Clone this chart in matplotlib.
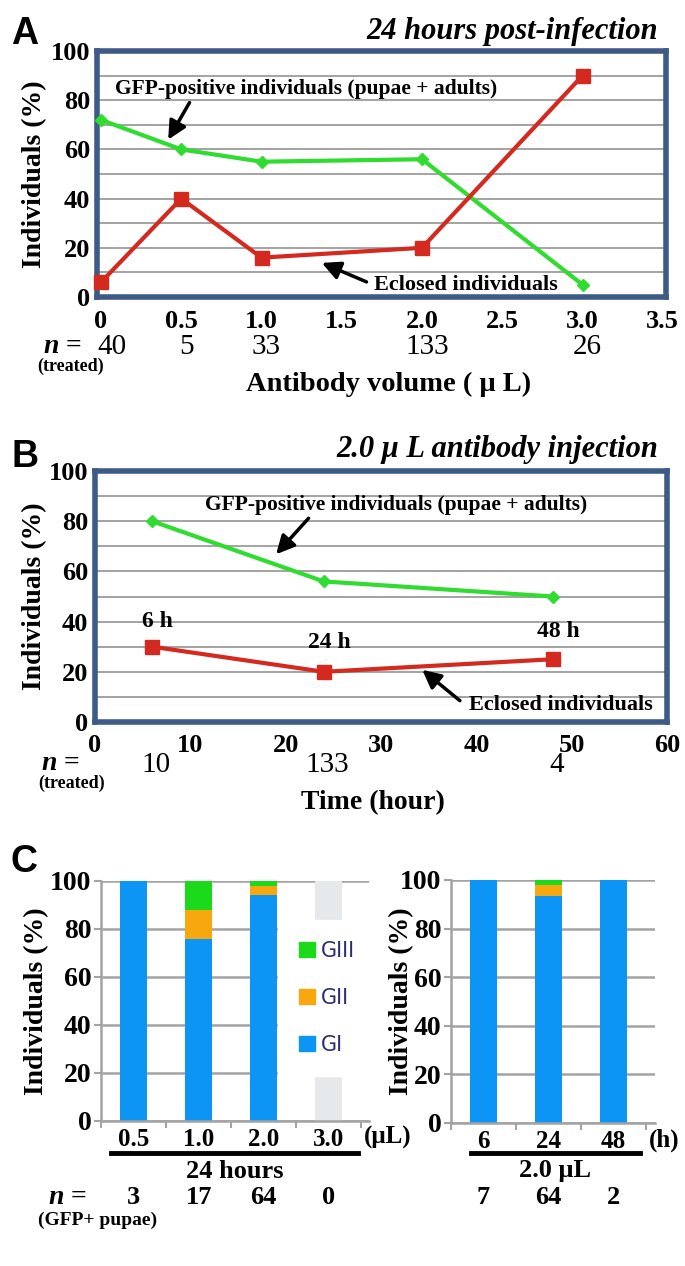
import numpy as np
import matplotlib.pyplot as plt
from matplotlib.patches import Patch
from matplotlib.transforms import blended_transform_factory

plt.rcParams['font.family'] = ['Liberation Serif', 'DejaVu Serif']
plt.rcParams['font.weight'] = 'bold'
plt.rcParams['axes.labelweight'] = 'bold'
plt.rcParams['mathtext.fontset'] = 'custom'
plt.rcParams['mathtext.it'] = 'Liberation Serif:italic:bold'
plt.rcParams['mathtext.rm'] = 'Liberation Serif:bold'

# panel A: 24 h post-infection, antibody volume
volA = [0, 0.5, 1.0, 2.0, 3.0]
gfpA = [72, 60, 55, 56, 5]
eclA = [6, 40, 16, 20, 90]
nA = ['40', '5', '33', '133', '26']

# panel B: 2.0 uL injection, time
timeB = [6, 24, 48]
gfpB = [80, 56, 50]
eclB = [30, 20, 25]
nB = ['10', '133', '4']
tlabB = ['6 h', '24 h', '48 h']

# panel C: grades of GFP+ pupae
volC = ['0.5', '1.0', '2.0', '3.0']
giC = [100, 76, 94, 0]
giiC = [0, 12, 4, 0]
giiiC = [0, 12, 2, 0]
nC = ['3', '17', '64', '0']

timeC = ['6', '24', '48']
giT = [100, 93.5, 100]
giiT = [0, 4.5, 0]
giiiT = [0, 2, 0]
nT = ['7', '64', '2']

W, H = 685, 1266
fig = plt.figure(figsize=(W / 100, H / 100), dpi=100)

def fx(x):
    return x / W

def fy(y):
    return 1 - y / H

def box(l, t, r, b):
    return [fx(l), fy(b), (r - l) / W, (b - t) / H]

green = '#2fdc2f'
red = '#d4291f'
frame = '#3d5b86'
gridc = '#a3a3a3'
blue = '#0c95f5'
orange = '#f7a80f'
gbar = '#1bd91b'
arrow = dict(arrowstyle='-|>,head_length=1.1,head_width=0.55', color='black', lw=2.5)


def ylabel_at(ax, xpix):
    ax.set_ylabel('Individuals (%)', fontsize=20)
    ax.yaxis.set_label_coords(fx(xpix), 0.5,
                              transform=blended_transform_factory(fig.transFigure, ax.transAxes))


def line_panel(ax, xlim, xticks, xtl):
    ax.set_xlim(*xlim)
    ax.set_ylim(0, 100)
    ax.set_xticks(xticks)
    ax.set_xticklabels(xtl)
    ax.set_yticks(range(0, 101, 20))
    ax.set_yticks(range(10, 100, 20), minor=True)
    ax.grid(axis='y', which='both', color=gridc, lw=1.4)
    ax.set_axisbelow(True)
    for s in ax.spines.values():
        s.set_color(frame)
        s.set_linewidth(4)
    ax.tick_params(length=0, which='both', labelsize=19)
    ax.tick_params(axis='x', pad=9)
    ax.tick_params(axis='y', pad=5)
    ylabel_at(ax, 47)


# ---- A ----
axA = fig.add_axes(box(97, 51, 666, 297))
line_panel(axA, (-0.025, 3.52), np.arange(0, 3.6, 0.5),
           ['0', '0.5', '1.0', '1.5', '2.0', '2.5', '3.0', '3.5'])
axA.plot(volA, gfpA, color=green, lw=3, marker='D', ms=6, clip_on=False, zorder=4)
axA.plot(volA, eclA, color=red, lw=3, marker='s', ms=9.5, clip_on=False, zorder=4)
axA.text(0.09, 84.5, 'GFP-positive individuals (pupae + adults)', fontsize=15.5, va='center', ha='left')
axA.annotate('', xy=(0.41, 63), xytext=(0.56, 80), arrowprops=arrow)
axA.text(1.70, 5, 'Eclosed individuals', fontsize=16, va='center', ha='left')
axA.annotate('', xy=(1.36, 14.3), xytext=(1.67, 5.7), arrowprops=arrow)
tA = blended_transform_factory(axA.transData, fig.transFigure)
for x, n in zip(volA, nA):
    axA.text(x + (0.07 if x == 0 else 0.03), fy(347), n, transform=tA,
             ha='center', va='center', fontsize=21, fontweight='normal')
fig.text(fx(658), fy(32), '24 hours post-infection', ha='right', va='center',
         fontsize=22, style='italic')
fig.text(fx(62), fy(347), '$n$ =', ha='center', va='center', fontsize=20)
fig.text(fx(71), fy(366), '(treated)', ha='center', va='center', fontsize=13)
fig.text(fx(389), fy(384), 'Antibody volume ( μ L)', ha='center', va='center', fontsize=20.5)
fig.text(fx(11), fy(34), 'A', family='Liberation Sans', fontsize=27, ha='left', va='center')

# ---- B ----
axB = fig.add_axes(box(95, 471, 667, 722))
line_panel(axB, (0, 60), range(0, 61, 10), [str(v) for v in range(0, 61, 10)])
axB.plot(timeB, gfpB, color=green, lw=3, marker='D', ms=6, clip_on=False, zorder=4)
axB.plot(timeB, eclB, color=red, lw=3, marker='s', ms=9.5, clip_on=False, zorder=4)
axB.text(11.5, 86.5, 'GFP-positive individuals (pupae + adults)', fontsize=15.5, va='center', ha='left')
axB.annotate('', xy=(18.8, 66), xytext=(22.6, 82), arrowprops=arrow)
axB.text(39.2, 6.8, 'Eclosed individuals', fontsize=16, va='center', ha='left')
axB.annotate('', xy=(34.1, 21.5), xytext=(38.5, 7.8), arrowprops=arrow)
for x, y, lab in zip(timeB, [40, 31.5, 36], tlabB):
    axB.text(x + 0.6, y, lab, ha='center', va='center', fontsize=17)
tB = blended_transform_factory(axB.transData, fig.transFigure)
for x, n in zip(timeB, nB):
    axB.text(x + 0.4, fy(765), n, transform=tB,
             ha='center', va='center', fontsize=21, fontweight='normal')
fig.text(fx(658), fy(450), '2.0 μ L antibody injection', ha='right', va='center',
         fontsize=22, style='italic')
fig.text(fx(60), fy(763), '$n$ =', ha='center', va='center', fontsize=20)
fig.text(fx(72), fy(783), '(treated)', ha='center', va='center', fontsize=13)
fig.text(fx(373), fy(803), 'Time (hour)', ha='center', va='center', fontsize=20)
fig.text(fx(11), fy(457), 'B', family='Liberation Sans', fontsize=27, ha='left', va='center')


# ---- C ----
def bar_panel(ax, cats, gi, gii, giii, xmax, unit, labx):
    x = np.arange(len(cats))
    ax.bar(x, gi, 0.42, color=blue, zorder=2)
    ax.bar(x, gii, 0.42, bottom=gi, color=orange, zorder=2)
    ax.bar(x, giii, 0.42, bottom=np.add(gi, gii), color=gbar, zorder=2)
    ax.set_xlim(-0.5, xmax)
    ax.set_ylim(0, 100)
    ax.set_yticks(range(0, 101, 20))
    ax.set_xticks(x)
    ax.set_xticklabels(cats)
    ax.set_xticks(np.arange(-0.5, len(cats), 1), minor=True)
    ax.grid(axis='y', color=gridc, lw=1.8, zorder=0)
    ax.set_axisbelow(True)
    for s in ['top', 'right']:
        ax.spines[s].set_visible(False)
    for s in ['left', 'bottom']:
        ax.spines[s].set_color(gridc)
        ax.spines[s].set_linewidth(1.8)
    ax.tick_params(axis='x', which='major', length=0, labelsize=18, pad=5)
    ax.tick_params(axis='x', which='minor', length=5, width=1.5, color=gridc, direction='out')
    ax.tick_params(axis='y', length=5, width=1.5, color=gridc, labelsize=20, pad=2)
    ylabel_at(ax, labx)
    ax.text(len(cats) - 0.5 + 0.04, -0.07, unit, transform=ax.get_xaxis_transform(),
            ha='left', va='center', fontsize=18)
    return x


axC1 = fig.add_axes(box(101, 881, 369, 1121))
xc = bar_panel(axC1, volC, giC, giiC, giiiC, 3.62, '(μL)', 49)
axC1.bar(xc[3], 100, 0.42, color='#e6e9eb', zorder=1.5)
handles = [Patch(color=gbar), Patch(color=orange), Patch(color=blue)]
leg = axC1.legend(handles, ['GIII', 'GII', 'GI'], loc='center',
                  bbox_to_anchor=(fx(327), fy(998)), bbox_transform=fig.transFigure,
                  frameon=True, facecolor='white', edgecolor='white', framealpha=1,
                  fancybox=False, handlelength=0.75, handleheight=0.75, handletextpad=0.3,
                  labelspacing=1.3, borderpad=1.0,
                  prop=dict(family='DejaVu Sans', size=15, weight='normal'))
for t in leg.get_texts():
    t.set_color('#2b2e6e')

axC2 = fig.add_axes(box(451, 880, 655, 1123))
xt = bar_panel(axC2, timeC, giT, giiT, giiiT, 2.64, '(h)', 414)

for ax, ns, l, r, lab in [(axC1, nC, 111, 358, '24 hours'), (axC2, nT, 471, 640, '2.0 μL')]:
    fig.add_artist(plt.Line2D([fx(l), fx(r)], [fy(1153), fy(1153)], color='black', lw=3.5))
    fig.text(fx((l + r) / 2), fy(1171), lab, ha='center', va='center', fontsize=19)
    tr = blended_transform_factory(ax.transData, fig.transFigure)
    for i, n in enumerate(ns):
        ax.text(i, fy(1198), n, transform=tr, ha='center', va='center', fontsize=19)

fig.text(fx(67), fy(1197), '$n$ =', ha='center', va='center', fontsize=20)
fig.text(fx(98), fy(1220), '(GFP+ pupae)', ha='center', va='center', fontsize=14)
fig.text(fx(11), fy(862), 'C', family='Liberation Sans', fontsize=27, ha='left', va='center')

fig.savefig('out.png', dpi=100)
